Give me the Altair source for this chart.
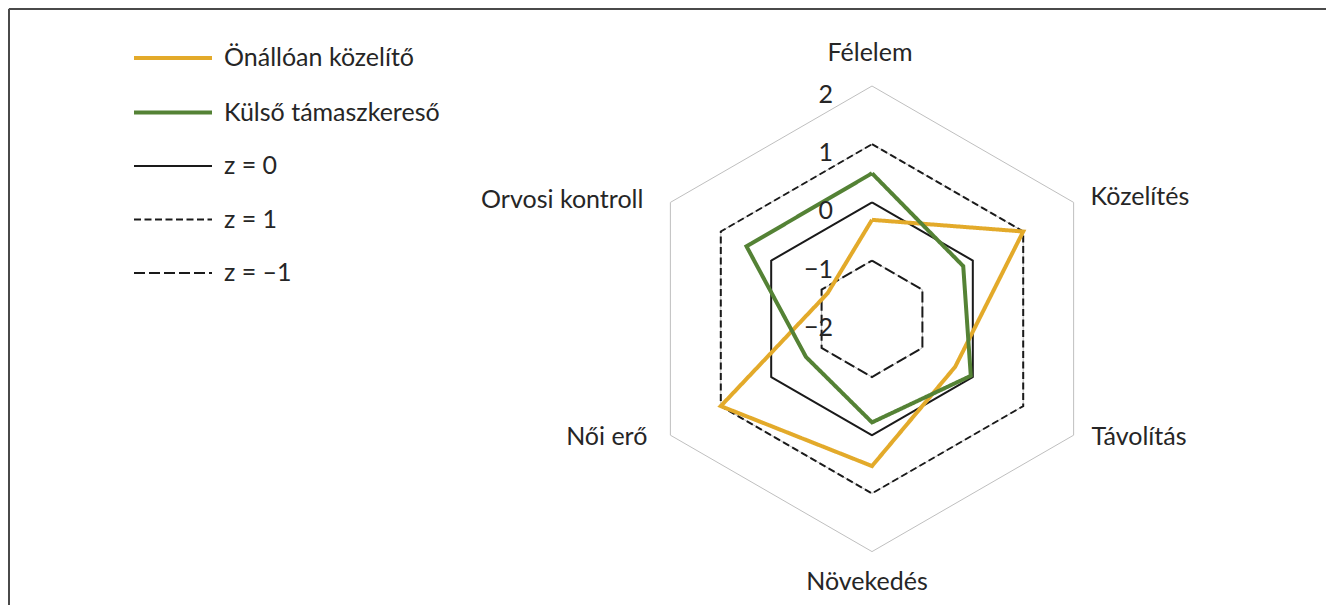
import math
import altair as alt
import pandas as pd

# ---- data ----
categories = ["Félelem", "Közelítés", "Távolítás", "Növekedés", "Női erő", "Orvosi kontroll"]
series_names = ["Önállóan közelítő", "Külső támaszkereső", "z = 0", "z = 1", "z = –1"]
onallo = [-0.30, 1.00, -0.35, 0.53, 1.00, -1.12]
kulso = [0.50, -0.19, -0.04, -0.22, -0.69, 0.49]
z0 = [0, 0, 0, 0, 0, 0]
z1 = [1, 1, 1, 1, 1, 1]
zm1 = [-1, -1, -1, -1, -1, -1]
grid_levels = [-1, 0, 1, 2]
tick_values = [-2, -1, 0, 1, 2]
tick_labels = ["−2", "−1", "0", "1", "2"]

# ---- layout ----
W, H = 1318, 597
UNIT = 58.2
CX, CY = 864.0, 310.8
FONT = "Lato"
FS = 25
TXT = "#262626"

colors = ["#E3AA2A", "#548235", "#1A1A1A", "#1A1A1A", "#1A1A1A"]
dashes = [[1, 0], [1, 0], [1, 0], [7, 3.5], [11, 4]]
widths = [4, 4, 2, 2, 2]

rows = []
for name, vals in zip(series_names, [onallo, kulso, z0, z1, zm1]):
    for i in range(7):
        rows.append({"series": name, "idx": i, "cat": categories[i % 6], "value": vals[i % 6]})
df = pd.DataFrame(rows)

grid_rows = []
for lv in grid_levels:
    for i in range(7):
        grid_rows.append({"level": lv, "idx": i, "value": lv})
gdf = pd.DataFrame(grid_rows)

cat_df = pd.DataFrame({"cat": categories, "idx": list(range(6)), "value": [2] * 6})
tick_df = pd.DataFrame({"value": tick_values, "label": tick_labels})

xs = alt.Scale(domain=[-CX / UNIT, (W - CX) / UNIT], nice=False, zero=False)
ys = alt.Scale(domain=[-(H - CY) / UNIT, CY / UNIT], nice=False, zero=False)


def polar(ch):
    return ch.transform_calculate(
        r="datum.value + 2",
        ang="datum.idx * PI / 3",
    ).transform_calculate(
        px="datum.r * sin(datum.ang)",
        py="datum.r * cos(datum.ang)",
    )


X = alt.X("px:Q", scale=xs, axis=None)
Y = alt.Y("py:Q", scale=ys, axis=None)

grid = polar(alt.Chart(gdf)).mark_line(color="#BFBFBF", strokeWidth=1).encode(
    x=X, y=Y, detail="level:N", order="idx:Q"
)

legend = alt.Legend(
    title=None, orient="none", legendX=124, legendY=9,
    symbolType="stroke", symbolSize=6084, labelFont=FONT, labelFontSize=FS,
    labelColor=TXT, labelOffset=10, rowPadding=0.5, labelLimit=400,
)

color_enc = alt.Color("series:N", scale=alt.Scale(domain=series_names, range=colors, type="ordinal"),
                      legend=legend, sort=series_names)
dash_enc = alt.StrokeDash("series:N", scale=alt.Scale(domain=series_names, range=dashes, type="ordinal"),
                          legend=legend, sort=series_names)
width_enc = alt.StrokeWidth("series:N", scale=alt.Scale(domain=series_names, range=widths, type="ordinal"),
                            legend=legend, sort=series_names)

zlines = polar(alt.Chart(df).transform_filter(
    alt.FieldOneOfPredicate(field="series", oneOf=series_names[2:])
)).mark_line(strokeJoin="miter").encode(
    x=X, y=Y, color=color_enc, strokeDash=dash_enc, strokeWidth=width_enc,
    detail="series:N", order="idx:Q"
)

slines = polar(alt.Chart(df).transform_filter(
    alt.FieldOneOfPredicate(field="series", oneOf=series_names[:2])
)).mark_line(strokeJoin="miter").encode(
    x=X, y=Y, color=color_enc, strokeDash=dash_enc, strokeWidth=width_enc,
    detail="series:N", order="idx:Q"
)

# axis tick labels on the top spoke
ticks = alt.Chart(tick_df).transform_calculate(
    px="0", py="datum.value + 2"
).mark_text(font=FONT, fontSize=FS, color=TXT, align="right", baseline="middle", dx=-39, dy=9).encode(
    x=X, y=Y, text="label:N"
)

# category labels
label_style = {
    "Félelem": dict(align="center", dx=-2, dy=-33),
    "Közelítés": dict(align="left", dx=17, dy=-5),
    "Távolítás": dict(align="left", dx=18, dy=2),
    "Növekedés": dict(align="center", dx=-5, dy=30),
    "Női erő": dict(align="right", dx=-23, dy=2),
    "Orvosi kontroll": dict(align="right", dx=-27, dy=-2),
}
cat_layers = []
for c in categories:
    st = label_style[c]
    cat_layers.append(
        polar(alt.Chart(cat_df).transform_filter(alt.datum.cat == c)).mark_text(
            font=FONT, fontSize=FS, color=TXT, baseline="middle", **st
        ).encode(x=X, y=Y, text="cat:N")
    )

# frame (top and left edge)
frame_v = alt.Chart(cat_df).mark_rule(color="#4A4A4A", strokeWidth=2).encode(
    x=alt.value(1), y=alt.value(1), y2=alt.value(H)
)
frame_h = alt.Chart(cat_df).mark_rule(color="#4A4A4A", strokeWidth=2).encode(
    y=alt.value(1), x=alt.value(1), x2=alt.value(W)
)

chart = alt.layer(grid, zlines, slines, ticks, *cat_layers, frame_v, frame_h).properties(
    width=W, height=H, padding=0,
    autosize=alt.AutoSizeParams(type="none"),
).configure_view(stroke=None).configure(background="white")

chart.save("out.html", embed_options={"renderer": "svg", "actions": False})
